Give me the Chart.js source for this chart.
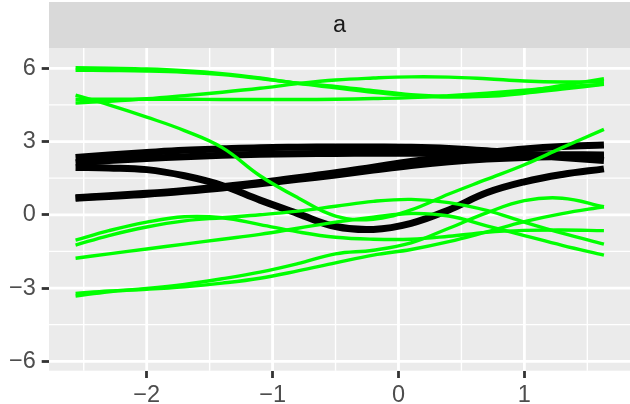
<!DOCTYPE html>
<html lang="en">
  <head>
    <meta charset="UTF-8" />
    <title>a</title>
    <script src="https://cdn.jsdelivr.net/npm/chart.js"></script>
    <style>
      html, body { margin: 0; padding: 0; background: #ffffff; }
      #chart { display: block; }
    </style>
  </head>
  <body>
    <canvas id="chart" width="630" height="404"></canvas>

    <script>
      // shared x positions of every curve
      const xs = [-2.565, -2.3, -2.0, -1.7, -1.4, -1.1, -0.8, -0.5, -0.2, 0.1, 0.4, 0.7, 1.0, 1.3, 1.632];

      // green curves
      const gA = [6.02, 6.0, 5.97, 5.9, 5.78, 5.6, 5.38, 5.2, 5.02, 4.88, 4.82, 4.88, 5.05, 5.3, 5.57];
      const gB = [5.92, 5.91, 5.89, 5.84, 5.74, 5.58, 5.4, 5.26, 5.08, 4.92, 4.85, 4.85, 4.98, 5.15, 5.34];
      const gC = [4.9, 4.5, 4.0, 3.45, 2.75, 1.6, 0.7, -0.05, -0.18, 0.2, 0.85, 1.45, 2.05, 2.75, 3.5];
      const gD = [4.58, 4.65, 4.75, 4.88, 5.02, 5.18, 5.37, 5.52, 5.6, 5.65, 5.64, 5.57, 5.48, 5.44, 5.45];
      const gE = [4.73, 4.73, 4.73, 4.73, 4.72, 4.72, 4.72, 4.73, 4.76, 4.8, 4.88, 4.98, 5.1, 5.24, 5.35];
      const gF = [-1.04, -0.65, -0.3, -0.08, -0.12, -0.4, -0.7, -0.92, -1.0, -1.0, -0.88, -0.72, -0.64, -0.62, -0.65];
      const gG = [-1.24, -0.85, -0.5, -0.25, -0.12, 0.0, 0.15, 0.35, 0.55, 0.63, 0.5, 0.18, -0.3, -0.75, -1.2];
      const gH = [-1.78, -1.6, -1.4, -1.2, -1.0, -0.8, -0.55, -0.3, -0.1, 0.05, -0.05, -0.45, -0.85, -1.25, -1.65];
      const gI = [-3.33, -3.15, -3.02, -2.85, -2.62, -2.35, -2.0, -1.6, -1.45, -1.15, -0.55, 0.08, 0.58, 0.68, 0.33];
      const gJ = [-3.22, -3.12, -3.05, -2.95, -2.8, -2.6, -2.3, -1.97, -1.65, -1.42, -1.1, -0.7, -0.28, 0.05, 0.33];

      // black curves
      const bK = [2.35, 2.45, 2.55, 2.64, 2.7, 2.75, 2.77, 2.78, 2.78, 2.77, 2.72, 2.62, 2.48, 2.35, 2.22];
      const bL = [2.13, 2.22, 2.31, 2.38, 2.44, 2.48, 2.5, 2.51, 2.52, 2.52, 2.51, 2.49, 2.47, 2.46, 2.45];
      const bM = [1.94, 1.92, 1.85, 1.6, 1.2, 0.6, 0.05, -0.48, -0.6, -0.35, 0.2, 0.9, 1.35, 1.65, 1.88];
      const bN1 = [0.7, 0.78, 0.88, 1.0, 1.15, 1.32, 1.52, 1.72, 1.95, 2.18, 2.38, 2.55, 2.7, 2.8, 2.86];
      const bN2 = [0.68, 0.75, 0.84, 0.96, 1.1, 1.27, 1.45, 1.63, 1.83, 2.02, 2.17, 2.28, 2.35, 2.38, 2.4];

      const greenSeries = [gA, gB, gC, gD, gE, gF, gG, gH, gI, gJ];
      const blackSeries = [bK, bL, bM, bN1, bN2];

      // axis breaks
      const xMajor = [-2, -1, 0, 1];
      const xMinor = [-2.5, -1.5, -0.5, 0.5, 1.5];
      const yMajor = [-6, -3, 0, 3, 6];
      const yMinor = [-4.5, -1.5, 1.5, 4.5];
      const stripLabel = "a";

      const FONT = "'Liberation Sans', Arial, sans-serif";

      function toPoints(ys) {
        return ys.map((y, i) => ({ x: xs[i], y: y }));
      }

      function fmt(v) {
        return v < 0 ? "\u2212" + Math.abs(v) : String(v);
      }

      const datasets = [];
      greenSeries.forEach((s) => {
        datasets.push({
          data: toPoints(s),
          borderColor: "#00ff00",
          borderWidth: 3.4,
          pointRadius: 0,
          tension: 0.4,
          fill: false,
        });
      });
      blackSeries.forEach((s) => {
        datasets.push({
          data: toPoints(s),
          borderColor: "#000000",
          borderWidth: 7,
          pointRadius: 0,
          tension: 0.4,
          fill: false,
        });
      });

      // panel, strip and grid drawn under the lines
      const panelPlugin = {
        id: "panel",
        beforeDraw(chart) {
          const ctx = chart.ctx;
          const a = chart.chartArea;
          const sx = chart.scales.x;
          const sy = chart.scales.y;
          ctx.save();
          // strip
          ctx.fillStyle = "#d9d9d9";
          ctx.fillRect(a.left, 2, a.right - a.left, a.top - 2);
          ctx.fillStyle = "#1a1a1a";
          ctx.font = "23.5px " + FONT;
          ctx.textAlign = "center";
          ctx.textBaseline = "middle";
          ctx.fillText(stripLabel, (a.left + a.right) / 2, (a.top + 2) / 2 + 1);
          // panel
          ctx.fillStyle = "#ebebeb";
          ctx.fillRect(a.left, a.top, a.right - a.left, a.bottom - a.top);
          ctx.strokeStyle = "#ffffff";
          ctx.lineWidth = 1.4;
          ctx.beginPath();
          xMinor.forEach((v) => {
            const p = sx.getPixelForValue(v);
            ctx.moveTo(p, a.top);
            ctx.lineTo(p, a.bottom);
          });
          yMinor.forEach((v) => {
            const p = sy.getPixelForValue(v);
            ctx.moveTo(a.left, p);
            ctx.lineTo(a.right, p);
          });
          ctx.stroke();
          ctx.lineWidth = 2.8;
          ctx.beginPath();
          xMajor.forEach((v) => {
            const p = sx.getPixelForValue(v);
            ctx.moveTo(p, a.top);
            ctx.lineTo(p, a.bottom);
          });
          yMajor.forEach((v) => {
            const p = sy.getPixelForValue(v);
            ctx.moveTo(a.left, p);
            ctx.lineTo(a.right, p);
          });
          ctx.stroke();
          ctx.restore();
        },
      };

      const ctx = document.getElementById("chart").getContext("2d");
      new Chart(ctx, {
        type: "line",
        data: { datasets: datasets },
        options: {
          responsive: false,
          animation: false,
          events: [],
          layout: { padding: { top: 48, left: 0, right: 0, bottom: 0 } },
          plugins: {
            legend: { display: false },
            tooltip: { enabled: false },
          },
          scales: {
            x: {
              type: "linear",
              min: -2.776,
              max: 1.839,
              afterBuildTicks: (scale) => {
                scale.ticks = xMajor.map((v) => ({ value: v }));
              },
              afterFit: (scale) => {
                scale.height = 33.3;
              },
              border: { display: false },
              grid: {
                drawOnChartArea: false,
                drawTicks: true,
                tickLength: 7.3,
                tickColor: "#333333",
                tickWidth: 2.8,
              },
              ticks: {
                callback: (v) => fmt(v),
                color: "#4d4d4d",
                font: { family: FONT, size: 23.5 },
                padding: 3,
                maxRotation: 0,
                autoSkip: false,
              },
            },
            y: {
              type: "linear",
              min: -6.385,
              max: 6.831,
              afterBuildTicks: (scale) => {
                scale.ticks = yMajor.map((v) => ({ value: v }));
              },
              afterFit: (scale) => {
                scale.width = 49;
              },
              border: { display: false },
              grid: {
                drawOnChartArea: false,
                drawTicks: true,
                tickLength: 7.3,
                tickColor: "#333333",
                tickWidth: 2.8,
              },
              ticks: {
                callback: (v) => fmt(v),
                color: "#4d4d4d",
                font: { family: FONT, size: 23.5 },
                padding: 6,
                autoSkip: false,
              },
            },
          },
        },
        plugins: [panelPlugin],
      });
    </script>
  </body>
</html>
